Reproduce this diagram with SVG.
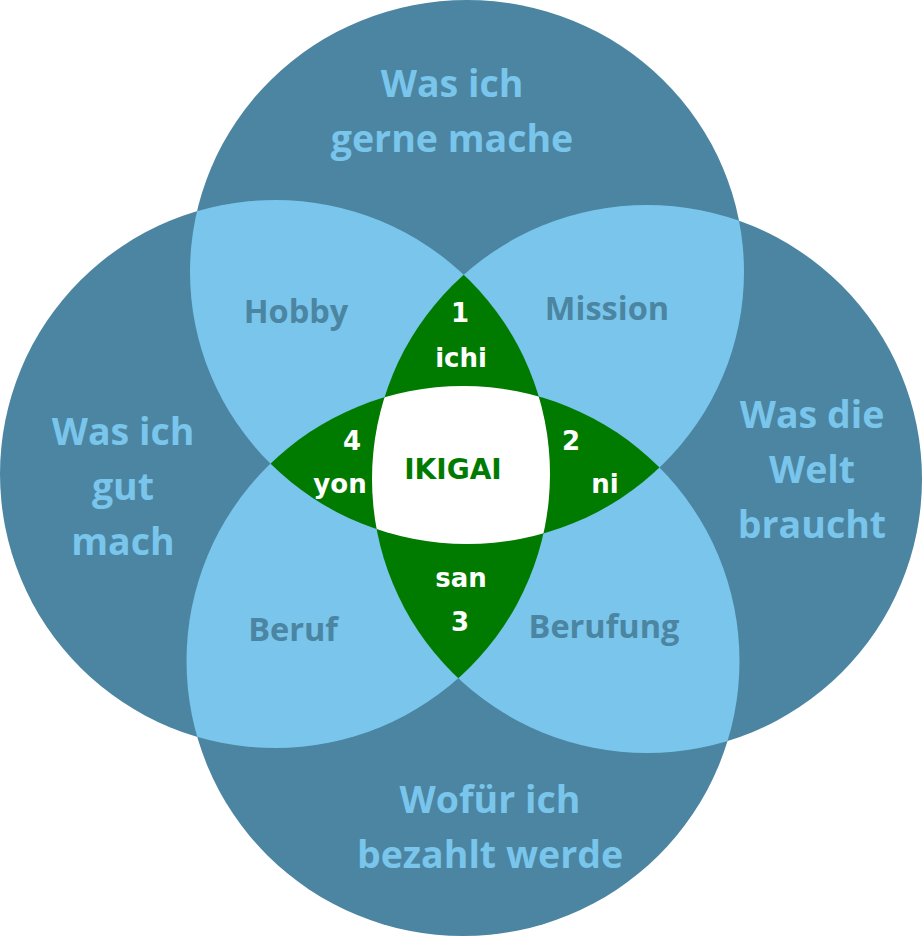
<svg xmlns="http://www.w3.org/2000/svg" width="922" height="936" viewBox="0 0 922 936">
<style>
.dark{fill:#4b85a1}
.light{fill:#79c5ec}
.green{fill:#007b00}
.white{fill:#ffffff}
.big{font-family:"Open Sans",Lato,"Liberation Sans",sans-serif;font-weight:bold;font-size:37.5px;fill:#79c5ec;text-anchor:middle}
.mid{font-family:"Open Sans",Lato,"Liberation Sans",sans-serif;font-weight:bold;font-size:32.5px;fill:#4b85a1;text-anchor:middle}
.num{font-family:"DejaVu Sans","Liberation Sans",sans-serif;font-weight:bold;font-size:26px;fill:#ffffff;text-anchor:middle}
.iki{font-family:"DejaVu Sans","Liberation Sans",sans-serif;font-weight:bold;font-size:28px;fill:#007b00;text-anchor:middle}
</style>
<defs>
<clipPath id="cT"><ellipse cx="467" cy="272" rx="277" ry="272"/></clipPath>
<clipPath id="cB"><ellipse cx="463" cy="661" rx="276.5" ry="275"/></clipPath>
<clipPath id="cL"><ellipse cx="275" cy="474" rx="275" ry="274"/></clipPath>
<clipPath id="cR"><ellipse cx="647" cy="479" rx="275" ry="274"/></clipPath>
</defs>
<g id="circles">
<ellipse id="top" class="dark" cx="467" cy="272" rx="277" ry="272"/>
<ellipse id="bottom" class="dark" cx="463" cy="661" rx="276.5" ry="275"/>
<ellipse id="left" class="dark" cx="275" cy="474" rx="275" ry="274"/>
<ellipse id="right" class="dark" cx="647" cy="479" rx="275" ry="274"/>
</g>
<g id="pairs">
<g id="hobby" clip-path="url(#cT)"><ellipse class="light" cx="275" cy="474" rx="275" ry="274"/></g>
<g id="mission" clip-path="url(#cT)"><ellipse class="light" cx="647" cy="479" rx="275" ry="274"/></g>
<g id="beruf" clip-path="url(#cB)"><ellipse class="light" cx="275" cy="474" rx="275" ry="274"/></g>
<g id="berufung" clip-path="url(#cB)"><ellipse class="light" cx="647" cy="479" rx="275" ry="274"/></g>
</g>
<g id="triples">
<g id="ichi" clip-path="url(#cT)"><g clip-path="url(#cL)"><ellipse class="green" cx="647" cy="479" rx="275" ry="274"/></g></g>
<g id="ni" clip-path="url(#cT)"><g clip-path="url(#cR)"><ellipse class="green" cx="463" cy="661" rx="276.5" ry="275"/></g></g>
<g id="san" clip-path="url(#cB)"><g clip-path="url(#cL)"><ellipse class="green" cx="647" cy="479" rx="275" ry="274"/></g></g>
<g id="yon" clip-path="url(#cT)"><g clip-path="url(#cL)"><ellipse class="green" cx="463" cy="661" rx="276.5" ry="275"/></g></g>
</g>
<g id="ikigai" clip-path="url(#cT)"><g clip-path="url(#cB)"><g clip-path="url(#cL)"><ellipse class="white" cx="647" cy="479" rx="275" ry="274"/></g></g></g>
<g id="labels">
<text class="big" x="452" y="97">Was ich</text>
<text class="big" x="452" y="152">gerne mache</text>
<text class="big" x="123" y="445">Was ich</text>
<text class="big" x="123" y="500">gut</text>
<text class="big" x="123" y="555">mach</text>
<text class="big" x="812" y="428">Was die</text>
<text class="big" x="812" y="483">Welt</text>
<text class="big" x="812" y="538">braucht</text>
<text class="big" x="490" y="813">Wofür ich</text>
<text class="big" x="490" y="868">bezahlt werde</text>
<text class="mid" x="296" y="323">Hobby</text>
<text class="mid" x="607" y="320">Mission</text>
<text class="mid" x="293" y="641">Beruf</text>
<text class="mid" x="604" y="638">Berufung</text>
<text class="num" x="460" y="322">1</text>
<text class="num" x="461" y="367">ichi</text>
<text class="num" x="571" y="450">2</text>
<text class="num" x="605" y="493">ni</text>
<text class="num" x="352" y="450">4</text>
<text class="num" x="340" y="493">yon</text>
<text class="num" x="461" y="587">san</text>
<text class="num" x="460" y="631">3</text>
<text class="iki" x="453" y="479">IKIGAI</text>
</g>
</svg>
